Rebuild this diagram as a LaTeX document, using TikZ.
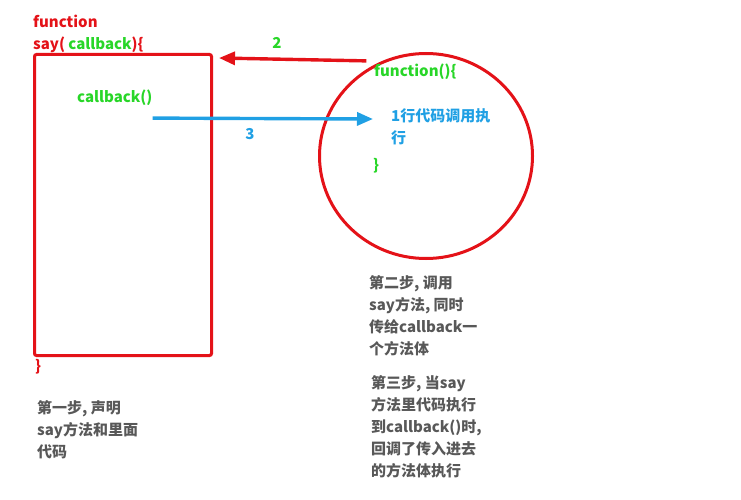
\documentclass[tikz,border=0pt]{standalone}
\usepackage{fontspec}
\setmainfont{Noto Sans CJK SC}
\usepackage{xcolor}
\usetikzlibrary{arrows.meta, positioning, shapes.geometric}
\definecolor{codered}{RGB}{228,18,24}
\definecolor{codegreen}{RGB}{40,214,40}
\definecolor{codeblue}{RGB}{32,160,228}
\definecolor{notegray}{RGB}{88,88,88}

\begin{document}
\begin{tikzpicture}[
  x=1pt, y=-1pt,
  every node/.style={inner sep=0pt, align=left, font=\fontsize{15}{22}\selectfont\bfseries},
  code/.style={text=codered, anchor=north west},
  cb/.style={text=codegreen},
  note/.style={text=notegray, anchor=north west},
  frame/.style={draw=codered, line width=3pt, rounded corners=2pt},
  arrow/.style={-{Triangle[length=16pt,width=13pt]}, line width=3.4pt}
]
\useasboundingbox (0,0) rectangle (741,500);

% Nodes
\node[code] (header) at (33,15) {function\\say( \textcolor{codegreen}{callback})\{};
\node[frame, minimum width=177pt, minimum height=301pt, anchor=north west] (sayBox) at (33,53) {};
\node[cb, anchor=north west] (callInvoke) at (77,90) {callback()};
\node[code] (sayClose) at (35,359) {\}};
\node[note] (step1) at (37,400) {第一步, 声明\\say方法和里面\\代码};

\node[frame, ellipse, minimum width=213pt, minimum height=205pt] (cbBody) at (426,156) {};
\node[cb, anchor=north west] (cbOpen) at (374,64) {function()\{};
\node[text=codeblue, anchor=north west] (cbLine) at (391,108) {1行代码调用执\\行};
\node[cb, anchor=north west] (cbClose) at (373,158) {\}};

\node[note] (step2) at (369,275) {第二步, 调用\\say方法, 同时\\传给callback一\\个方法体};
\node[note] (step3) at (371,375) {第三步, 当say\\方法里代码执行\\到callback()时,\\回调了传入进去\\的方法体执行};

\node[cb] (num2) at (277,43) {2};
\node[text=codeblue] (num3) at (250,134) {3};

\coordinate (from2) at ([shift={(-4,-6)}]cbBody.122);
\coordinate (from3) at ([yshift=-12pt]callInvoke.south east);
\coordinate (to3) at (373,119);

% Arrows
\draw[arrow, codered] (from2) -- ([shift={(6,5)}]sayBox.north east);
\draw[arrow, codeblue] (from3) -- (to3);

\end{tikzpicture}
\end{document}
